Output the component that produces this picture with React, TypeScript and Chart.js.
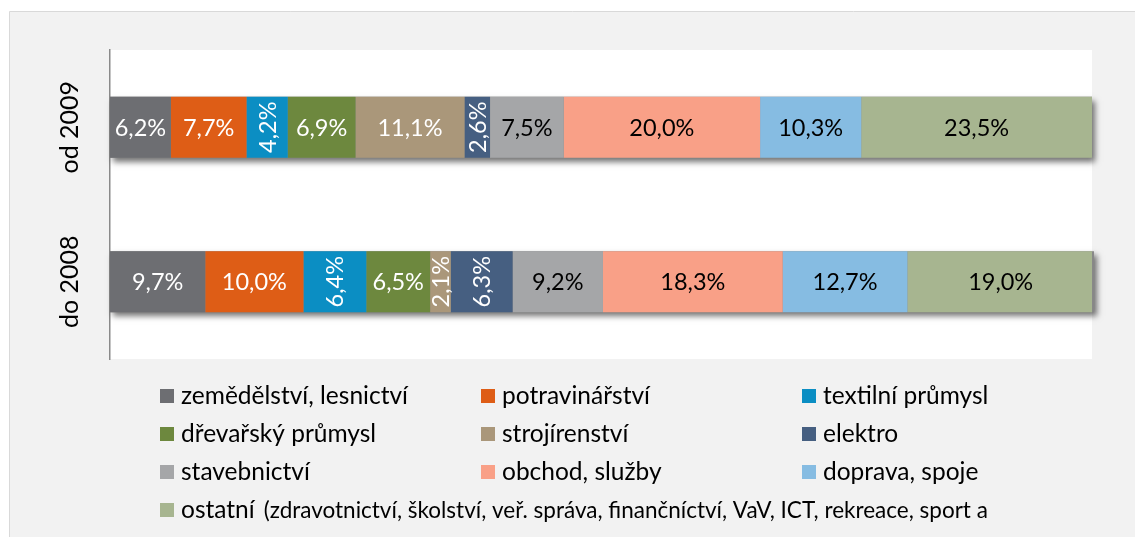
import React, { useEffect, useRef } from "react";
import { Chart, registerables } from "chart.js";

Chart.register(...registerables);

const ROWS = ["od 2009", "do 2008"];

const SECTORS = [
  "zemědělství, lesnictví",
  "potravinářství",
  "textilní průmysl",
  "dřevařský průmysl",
  "strojírenství",
  "elektro",
  "stavebnictví",
  "obchod, služby",
  "doprava, spoje",
  "ostatní",
];

const OSTATNI_NOTE = "(zdravotnictví, školství, veř. správa, finančníctví, VaV, ICT, rekreace, sport a";

const COLORS = [
  "#6d6e72",
  "#de5d16",
  "#0b8ec3",
  "#6d883e",
  "#aa977a",
  "#465f81",
  "#a5a6a8",
  "#f9a087",
  "#86bce2",
  "#a7b590",
];

const OD_2009 = [6.2, 7.7, 4.2, 6.9, 11.1, 2.6, 7.5, 20.0, 10.3, 23.5];
const DO_2008 = [9.7, 10.0, 6.4, 6.5, 2.1, 6.3, 9.2, 18.3, 12.7, 19.0];

const LABEL_COLORS = ["#fff", "#fff", "#fff", "#fff", "#fff", "#fff", "#000", "#000", "#000", "#000"];

// [sector index, row index] of data labels written vertically
const ROTATED: [number, number][] = [
  [2, 0],
  [5, 0],
  [2, 1],
  [4, 1],
  [5, 1],
];

const W = 1135;
const H = 537;
const FONT = "Lato, 'Open Sans', sans-serif";

const fmt = (v: number) => v.toFixed(1).replace(".", ",") + "%";

const backgroundPlugin = {
  id: "bgPanel",
  beforeDraw(chart: any) {
    const { ctx, chartArea } = chart;
    ctx.save();
    ctx.fillStyle = "#ffffff";
    ctx.fillRect(0, 0, W, H);
    ctx.fillStyle = "#f2f2f2";
    ctx.fillRect(9, 12, W - 9, H - 12);
    ctx.strokeStyle = "#d9d9d9";
    ctx.lineWidth = 1;
    ctx.beginPath();
    ctx.moveTo(9.5, H);
    ctx.lineTo(9.5, 11.5);
    ctx.lineTo(W, 11.5);
    ctx.stroke();
    ctx.fillStyle = "#ffffff";
    ctx.fillRect(chartArea.left, chartArea.top, chartArea.right - chartArea.left, chartArea.bottom - chartArea.top);
    ctx.restore();
  },
};

const shadowPlugin = {
  id: "barShadow",
  beforeDatasetsDraw(chart: any) {
    const { ctx } = chart;
    const n = chart.data.datasets.length;
    const firstMeta = chart.getDatasetMeta(0);
    const lastMeta = chart.getDatasetMeta(n - 1);
    ROWS.forEach((_, j) => {
      const a = firstMeta.data[j].getProps(["x", "y", "base", "height"], true);
      const b = lastMeta.data[j].getProps(["x", "y", "base", "height"], true);
      const left = Math.min(a.base, a.x);
      const right = Math.max(b.x, b.base);
      const top = a.y - a.height / 2;
      ctx.save();
      ctx.shadowColor = "rgba(0,0,0,0.55)";
      ctx.shadowBlur = 6;
      ctx.shadowOffsetX = 3;
      ctx.shadowOffsetY = 4;
      ctx.fillStyle = "#888";
      ctx.fillRect(left, top, right - left, a.height);
      ctx.restore();
    });
  },
};

const labelsPlugin = {
  id: "segLabels",
  afterDatasetsDraw(chart: any) {
    const { ctx } = chart;
    ctx.save();
    ctx.font = `23.5px ${FONT}`;
    ctx.textAlign = "center";
    ctx.textBaseline = "middle";
    chart.data.datasets.forEach((ds: any, i: number) => {
      const meta = chart.getDatasetMeta(i);
      meta.data.forEach((el: any, j: number) => {
        const p = el.getProps(["x", "y", "base"], true);
        const cx = (p.x + p.base) / 2;
        const cy = p.y;
        ctx.fillStyle = LABEL_COLORS[i];
        const rot = ROTATED.some(([s, r]) => s === i && r === j);
        if (rot) {
          ctx.save();
          ctx.translate(cx, cy);
          ctx.rotate(-Math.PI / 2);
          ctx.fillText(fmt(ds.data[j]), 0, 1);
          ctx.restore();
        } else {
          ctx.fillText(fmt(ds.data[j]), cx, cy + 1);
        }
      });
    });
    ctx.restore();
  },
};

const axisLabelsPlugin = {
  id: "rowLabels",
  afterDraw(chart: any) {
    const { ctx } = chart;
    const yScale = chart.scales.y;
    ctx.save();
    ctx.font = `25px ${FONT}`;
    ctx.fillStyle = "#000";
    ctx.textAlign = "center";
    ctx.textBaseline = "middle";
    ROWS.forEach((label, j) => {
      const y = yScale.getPixelForValue(j);
      ctx.save();
      ctx.translate(70, y);
      ctx.rotate(-Math.PI / 2);
      ctx.fillText(label, 0, 0);
      ctx.restore();
    });
    ctx.restore();
  },
};

const legendPlugin = {
  id: "gridLegend",
  afterDraw(chart: any) {
    const { ctx } = chart;
    const colX = [160, 481, 802];
    const rowY = [396, 434, 472, 510];
    const box = 14;
    ctx.save();
    ctx.textBaseline = "middle";
    ctx.textAlign = "left";
    chart.data.datasets.forEach((ds: any, i: number) => {
      const col = i % 3;
      const row = Math.floor(i / 3);
      const x = colX[col];
      const y = rowY[row];
      ctx.fillStyle = ds.backgroundColor;
      ctx.fillRect(x, y - box / 2, box, box);
      ctx.fillStyle = "#000";
      ctx.font = `24.5px ${FONT}`;
      ctx.fillText(ds.label, x + 21, y);
      if (i === SECTORS.length - 1) {
        const w = ctx.measureText(ds.label).width;
        ctx.font = `22.5px ${FONT}`;
        ctx.fillText(OSTATNI_NOTE, x + 21 + w + 9, y + 1);
      }
    });
    ctx.restore();
  },
};

export default function App() {
  const ref = useRef<HTMLCanvasElement | null>(null);

  useEffect(() => {
    if (!ref.current) return;
    const datasets = SECTORS.map((label, i) => ({
      label,
      data: [OD_2009[i], DO_2008[i]],
      backgroundColor: COLORS[i],
      borderWidth: 0,
      categoryPercentage: 1,
      barPercentage: 0.395,
    }));
    const chart = new Chart(ref.current, {
      type: "bar",
      data: { labels: ROWS, datasets },
      options: {
        indexAxis: "y",
        responsive: false,
        animation: false,
        devicePixelRatio: 1,
        layout: { padding: { left: 110, right: 43, top: 50, bottom: 178 } },
        scales: {
          x: { stacked: true, min: 0, max: 100, display: false },
          y: {
            stacked: true,
            ticks: { display: false },
            grid: { display: false, drawTicks: false },
            border: { display: true, color: "#8a8a8a", width: 1.5 },
          },
        },
        plugins: {
          legend: { display: false },
          tooltip: { enabled: false },
          title: { display: false },
        },
      },
      plugins: [backgroundPlugin, shadowPlugin, labelsPlugin, axisLabelsPlugin, legendPlugin],
    } as any);
    return () => chart.destroy();
  }, []);

  return (
    <div style={{ position: "fixed", left: 0, top: 0, width: W, height: H, background: "#fff" }}>
      <canvas ref={ref} width={W} height={H} style={{ display: "block", width: W, height: H }} />
    </div>
  );
}
